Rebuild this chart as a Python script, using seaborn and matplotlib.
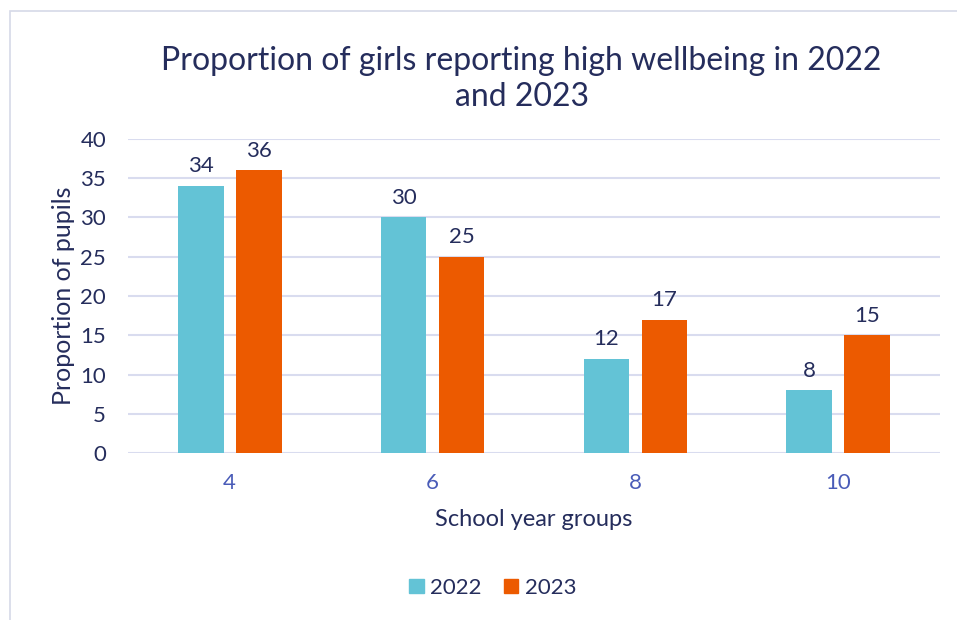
import matplotlib
matplotlib.use("Agg")
import matplotlib.pyplot as plt
import matplotlib.patches as mpatches
import seaborn as sns
import pandas as pd

# Data
year_groups = ["4", "6", "8", "10"]
values_2022 = [34, 30, 12, 8]
values_2023 = [36, 25, 17, 15]
series_names = ["2022", "2023"]

df = pd.DataFrame({
    "year_group": year_groups * 2,
    "value": values_2022 + values_2023,
    "series": [series_names[0]] * 4 + [series_names[1]] * 4,
})

navy = "#252d5c"
tick_blue = "#4a5cb8"
grid_col = "#d9dcef"
palette = {"2022": "#63c3d6", "2023": "#ec5a00"}

sns.set_theme(style="white")
plt.rcParams["font.family"] = ["Lato", "DejaVu Sans"]

fig = plt.figure(figsize=(9.57, 6.2), dpi=100)
ax = fig.add_axes([0.134, 0.269, 0.848, 0.507])

sns.barplot(data=df, x="year_group", y="value", hue="series", order=year_groups,
            hue_order=series_names, palette=palette, width=0.571, gap=0.21,
            saturation=1, ax=ax, legend=False, zorder=3, linewidth=0)

for cont in ax.containers:
    ax.bar_label(cont, labels=[f"{int(v)}" for v in cont.datavalues],
                 padding=7, fontsize=16, color=navy)

ax.set_ylim(0, 40)
ax.set_yticks(range(0, 41, 5))
ax.set_xlim(-0.5, 3.5)
ax.yaxis.grid(True, color=grid_col, linewidth=1.5, zorder=0)
ax.set_axisbelow(True)
for s in ax.spines.values():
    s.set_visible(False)
ax.tick_params(axis="y", labelsize=16, labelcolor=navy, length=0, pad=16)
ax.tick_params(axis="x", labelsize=16, labelcolor=tick_blue, length=0, pad=14)
ax.set_xlabel("School year groups", fontsize=17, color=navy, labelpad=12)
ax.set_ylabel("Proportion of pupils", fontsize=18, color=navy, labelpad=4)

fig.suptitle("Proportion of girls reporting high wellbeing in 2022\nand 2023",
             x=0.545, y=0.925, fontsize=23, color=navy, linespacing=1.25)

handles = [mpatches.Patch(color=palette[s], label=s) for s in series_names]
fig.legend(handles=handles, loc="center", bbox_to_anchor=(0.515, 0.052), ncol=2,
           frameon=False, fontsize=16, labelcolor=navy, handlelength=0.65,
           handleheight=0.65, handletextpad=0.3, columnspacing=1.0)

# light frame around the chart area
fig.add_artist(mpatches.Rectangle((10 / 957, -0.1), 1.2, (620 - 11) / 620 + 0.1,
                                  transform=fig.transFigure, fill=False,
                                  edgecolor="#d6d9e8", linewidth=1.2))

fig.savefig("out.png", dpi=100)
